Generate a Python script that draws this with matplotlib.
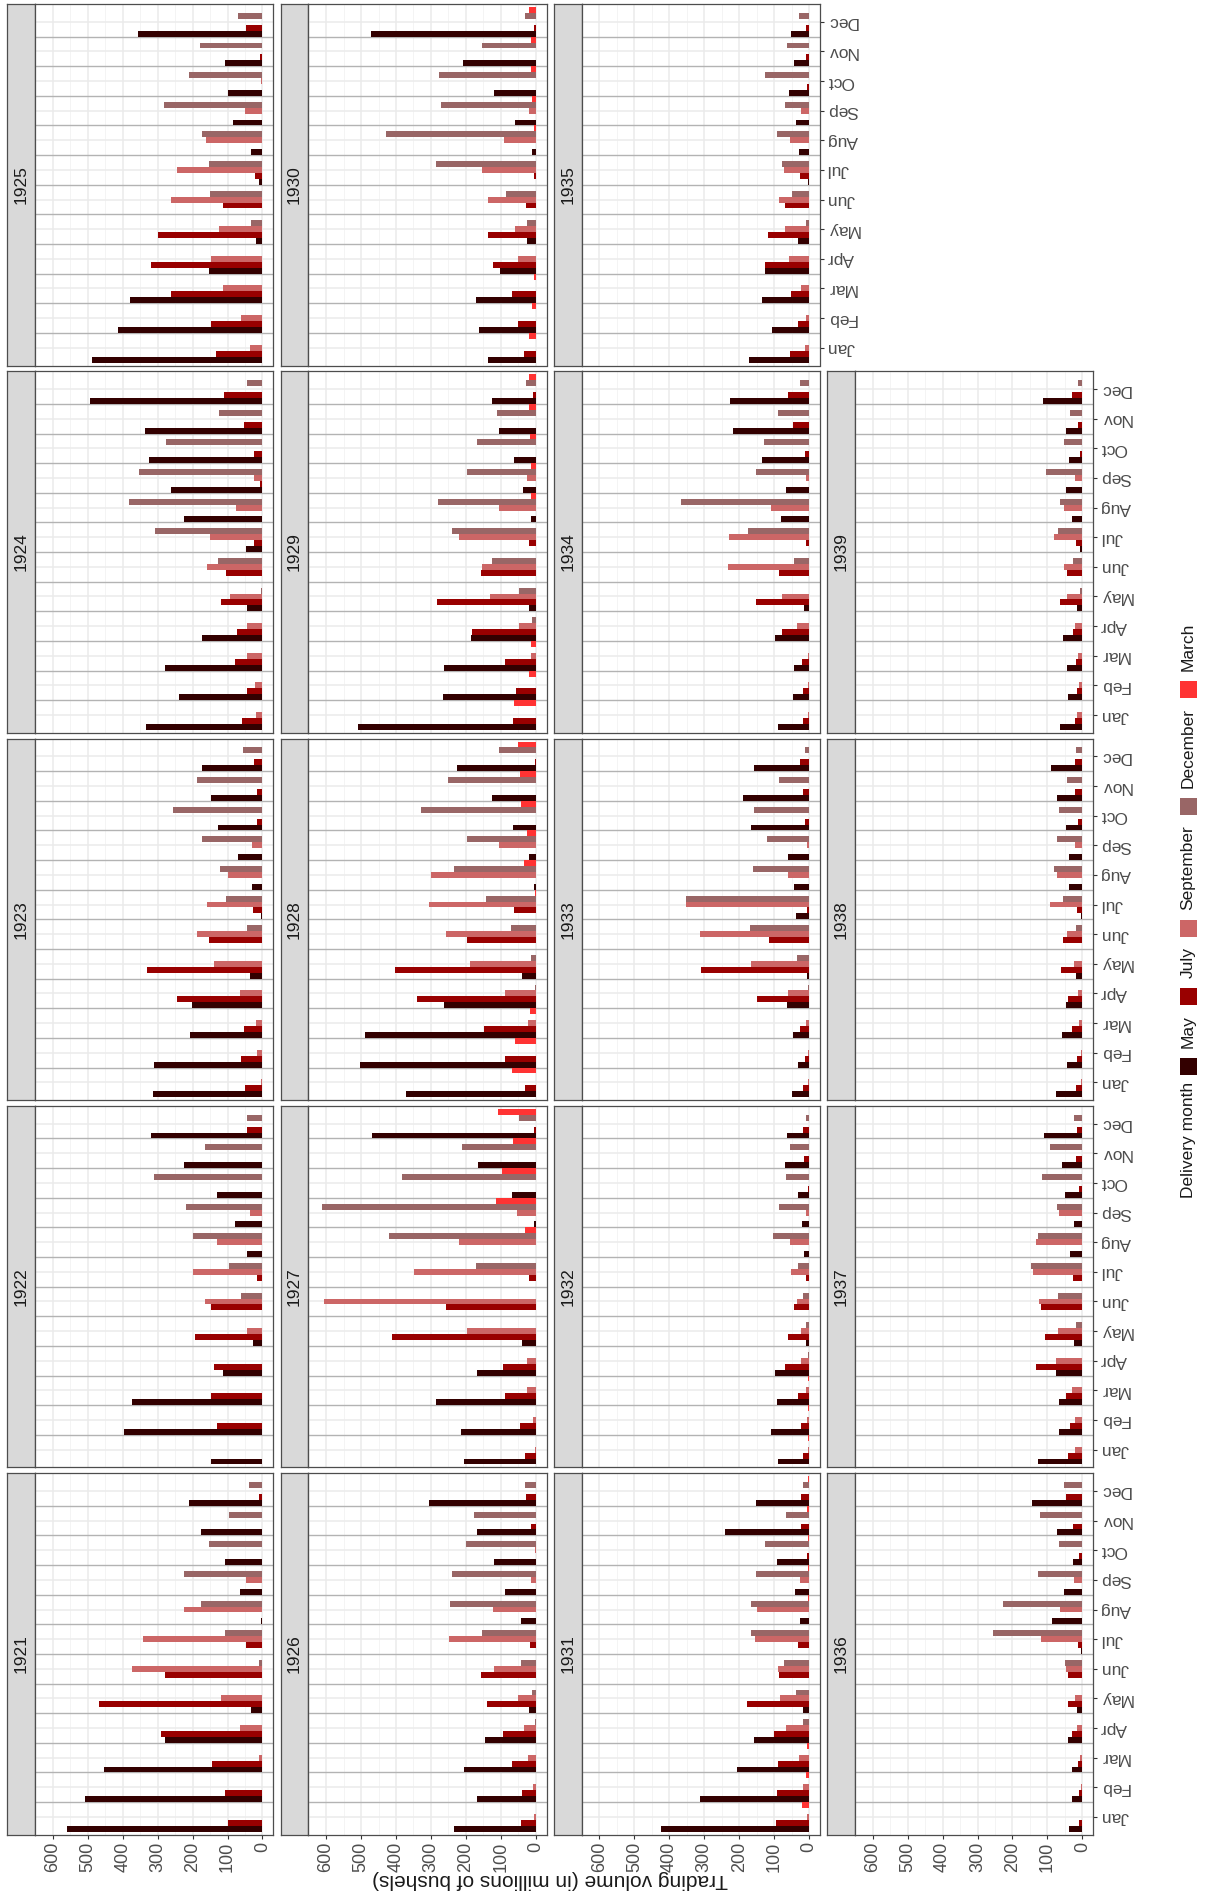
import matplotlib
matplotlib.use("Agg")
import matplotlib.pyplot as plt
from matplotlib.patches import Rectangle
from matplotlib.ticker import MultipleLocator
import numpy as np

W, H, DPI = 1205, 1897, 100
FONT = ["Liberation Sans Narrow", "Liberation Sans", "DejaVu Sans"]
plt.rcParams["font.family"] = FONT

months = ["Jan", "Feb", "Mar", "Apr", "May", "Jun", "Jul", "Aug", "Sep", "Oct", "Nov", "Dec"]
delivery_months = ["May", "July", "September", "December", "March"]
delivery_colors = ["#330000", "#990000", "#CC6666", "#996666", "#FF3333"]
years = list(range(1921, 1940))

# Trading volume (millions of bushels) per trading month Jan..Dec, by delivery month
may_volume = {
    1921: [560, 509, 453, 279, 33, 0, 0, 5, 63, 108, 177, 210],
    1922: [148, 397, 372, 114, 28, 0, 0, 45, 80, 131, 224, 320],
    1923: [312, 309, 207, 202, 35, 0, 5, 31, 69, 127, 147, 172],
    1924: [333, 239, 279, 174, 45, 0, 46, 225, 261, 326, 336, 493],
    1925: [488, 414, 379, 152, 19, 0, 10, 33, 84, 100, 108, 357],
    1926: [234, 168, 204, 144, 20, 0, 0, 42, 88, 119, 167, 306],
    1927: [205, 215, 285, 167, 40, 0, 0, 0, 5, 68, 164, 468],
    1928: [370, 502, 488, 263, 39, 0, 0, 4, 18, 65, 124, 225],
    1929: [510, 265, 263, 185, 19, 0, 0, 15, 36, 63, 106, 125],
    1930: [138, 162, 172, 103, 24, 0, 0, 10, 60, 120, 207, 472],
    1931: [423, 312, 205, 157, 16, 0, 0, 25, 41, 93, 241, 153],
    1932: [90, 110, 91, 97, 9, 0, 0, 14, 21, 32, 69, 64],
    1933: [50, 33, 45, 63, 6, 0, 37, 44, 61, 166, 189, 159],
    1934: [89, 46, 44, 97, 14, 0, 0, 80, 65, 134, 218, 226],
    1935: [173, 106, 135, 127, 31, 0, 3, 28, 37, 57, 43, 51],
    1936: [38, 29, 29, 40, 14, 0, 5, 87, 52, 28, 73, 144],
    1937: [128, 67, 66, 76, 23, 0, 2, 34, 23, 50, 57, 109],
    1938: [76, 44, 59, 46, 17, 0, 5, 38, 37, 46, 72, 89],
    1939: [63, 40, 45, 55, 16, 0, 6, 30, 47, 38, 47, 114],
}
july_volume = {
    1921: [100, 106, 145, 291, 467, 279, 47, 0, 0, 0, 0, 11],
    1922: [0, 130, 148, 138, 193, 148, 17, 0, 0, 0, 0, 45],
    1923: [49, 62, 52, 244, 330, 152, 27, 0, 0, 15, 17, 23],
    1924: [60, 43, 80, 74, 119, 105, 23, 0, 6, 25, 53, 110],
    1925: [134, 146, 261, 320, 298, 114, 20, 0, 0, 0, 8, 47],
    1926: [41, 40, 69, 93, 140, 158, 17, 0, 0, 0, 14, 29],
    1927: [31, 46, 88, 94, 412, 256, 20, 0, 0, 0, 0, 5],
    1928: [31, 87, 147, 340, 403, 197, 63, 0, 0, 0, 0, 2],
    1929: [64, 57, 88, 182, 282, 157, 19, 0, 0, 0, 0, 7],
    1930: [34, 52, 69, 121, 138, 28, 5, 0, 0, 0, 0, 5],
    1931: [95, 91, 89, 100, 178, 86, 31, 0, 0, 5, 23, 22],
    1932: [16, 24, 31, 69, 61, 44, 8, 0, 0, 3, 14, 18],
    1933: [17, 12, 25, 149, 309, 115, 5, 0, 0, 12, 16, 27],
    1934: [18, 16, 20, 78, 152, 86, 10, 0, 0, 12, 45, 60],
    1935: [55, 33, 52, 127, 118, 68, 25, 0, 0, 7, 8, 9],
    1936: [11, 9, 12, 31, 40, 41, 12, 0, 0, 10, 27, 48],
    1937: [40, 34, 47, 133, 108, 117, 27, 0, 0, 9, 17, 16],
    1938: [18, 16, 31, 40, 62, 54, 15, 0, 0, 12, 21, 20],
    1939: [20, 15, 19, 27, 63, 44, 18, 0, 0, 7, 12, 31],
}
september_volume = {
    1921: [0, 0, 9, 65, 118, 373, 342, 225, 48, 0, 0, 0],
    1922: [0, 0, 0, 0, 45, 165, 200, 130, 35, 0, 0, 0],
    1923: [4, 15, 19, 65, 138, 186, 158, 99, 29, 0, 0, 0],
    1924: [19, 21, 45, 45, 94, 159, 149, 77, 23, 0, 0, 0],
    1925: [37, 61, 113, 148, 123, 262, 246, 161, 49, 3, 0, 0],
    1926: [4, 9, 22, 33, 52, 120, 248, 122, 13, 2, 0, 0],
    1927: [3, 8, 26, 26, 197, 605, 349, 221, 55, 0, 0, 0],
    1928: [0, 0, 21, 87, 188, 256, 306, 300, 105, 0, 0, 0],
    1929: [0, 0, 15, 48, 131, 153, 220, 105, 24, 0, 0, 0],
    1930: [0, 0, 0, 52, 59, 138, 155, 90, 20, 0, 0, 0],
    1931: [6, 17, 30, 65, 84, 88, 156, 149, 25, 0, 0, 0],
    1932: [2, 6, 10, 24, 23, 34, 51, 54, 8, 0, 0, 0],
    1933: [2, 3, 10, 61, 165, 311, 353, 61, 6, 0, 0, 0],
    1934: [2, 2, 3, 34, 78, 233, 228, 109, 10, 0, 0, 0],
    1935: [12, 9, 23, 57, 70, 85, 73, 55, 23, 0, 0, 0],
    1936: [2, 3, 6, 15, 20, 47, 117, 64, 23, 0, 0, 2],
    1937: [20, 20, 31, 76, 69, 123, 140, 132, 68, 0, 0, 0],
    1938: [4, 4, 9, 12, 25, 43, 93, 74, 21, 0, 0, 2],
    1939: [15, 10, 12, 20, 43, 52, 80, 52, 21, 0, 0, 0],
}
december_volume = {
    1921: [0, 0, 0, 0, 0, 9, 107, 176, 224, 154, 95, 39],
    1922: [0, 0, 0, 0, 0, 62, 97, 200, 220, 310, 165, 45],
    1923: [0, 0, 0, 2, 2, 44, 103, 122, 174, 256, 187, 56],
    1924: [0, 0, 0, 0, 3, 127, 307, 383, 353, 276, 125, 44],
    1925: [0, 0, 0, 0, 34, 150, 153, 174, 281, 210, 179, 71],
    1926: [0, 0, 0, 2, 10, 43, 153, 245, 241, 199, 176, 30],
    1927: [0, 0, 0, 0, 0, 0, 171, 419, 613, 383, 211, 48],
    1928: [0, 0, 0, 2, 13, 71, 142, 233, 198, 329, 252, 106],
    1929: [0, 0, 0, 10, 49, 126, 240, 281, 196, 167, 111, 29],
    1930: [0, 0, 0, 0, 24, 86, 286, 430, 270, 276, 155, 30],
    1931: [0, 0, 0, 18, 38, 71, 167, 167, 153, 127, 65, 16],
    1932: [0, 0, 0, 2, 8, 18, 33, 103, 87, 65, 54, 10],
    1933: [0, 0, 0, 2, 35, 168, 352, 161, 121, 159, 85, 11],
    1934: [0, 0, 0, 0, 0, 43, 174, 366, 151, 130, 90, 25],
    1935: [0, 0, 0, 0, 8, 49, 78, 91, 68, 125, 63, 30],
    1936: [0, 0, 0, 0, 1, 50, 256, 228, 128, 68, 121, 52],
    1937: [0, 0, 0, 0, 17, 69, 146, 127, 72, 115, 92, 25],
    1938: [0, 0, 0, 0, 2, 18, 55, 82, 72, 66, 43, 18],
    1939: [0, 0, 0, 0, 6, 28, 69, 63, 105, 52, 34, 12],
}
march_volume = {
    1921: [0] * 12, 1922: [0] * 12, 1923: [0] * 12, 1924: [0] * 12, 1925: [0] * 12,
    1926: [0] * 12,
    1927: [0, 0, 0, 0, 0, 0, 0, 30, 114, 97, 65, 109],
    1928: [69, 59, 17, 0, 0, 0, 2, 33, 25, 42, 44, 50],
    1929: [63, 18, 13, 0, 0, 0, 0, 15, 15, 17, 19, 18],
    1930: [20, 10, 5, 0, 0, 0, 0, 5, 10, 15, 15, 20],
    1931: [19, 9, 5, 0, 0, 0, 0, 3, 3, 4, 5, 4],
    1932: [3, 3, 3, 0, 0, 0, 0, 0, 0, 0, 0, 0],
    1933: [0] * 12, 1934: [0] * 12, 1935: [0] * 12, 1936: [0] * 12, 1937: [0] * 12,
    1938: [0] * 12, 1939: [0] * 12,
}
series = [may_volume, july_volume, september_volume, december_volume, march_volume]

y_label = "Trading volume (in millions of bushels)"
legend_title = "Delivery month"

# ---------------- layout (pixel geometry of the rotated facet grid) -------------
fig = plt.figure(figsize=(W / DPI, H / DPI), dpi=DPI)
fig.patch.set_facecolor("white")

def rect(x, y, w, h):
    return [x / W, 1 - (y + h) / H, w / W, h / H]

col_x0, col_step = 7.3, 273.3
row_y0, row_step = 4.0, 367.3
strip_w, panel_w, panel_h = 27.7, 238.3, 361.5

BORDER = "#4D4D4D"
TXT = "#4D4D4D"
offsets = [-0.4, -0.2, 0.0, 0.2, 0.4]
mpos = np.arange(1, 13)

for k, yr in enumerate(years):
    orow, ocol = divmod(k, 5)
    c = orow
    r = 4 - ocol
    x0 = col_x0 + c * col_step
    y0 = row_y0 + r * row_step

    # strip
    sax = fig.add_axes(rect(x0, y0, strip_w, panel_h))
    sax.set_facecolor("#D9D9D9")
    sax.set_xticks([]); sax.set_yticks([])
    for sp in sax.spines.values():
        sp.set_color(BORDER); sp.set_linewidth(0.9)
    sax.text(0.5, 0.5, str(yr), rotation=90, ha="center", va="center",
             transform=sax.transAxes, fontsize=12.5, color="#1A1A1A")

    # panel
    ax = fig.add_axes(rect(x0 + strip_w, y0, panel_w, panel_h))
    ax.set_xlim(651, -31)
    ax.set_ylim(0.4, 12.6)
    ax.xaxis.set_major_locator(MultipleLocator(100))
    ax.xaxis.set_minor_locator(MultipleLocator(50))
    ax.set_yticks(mpos)
    ax.set_axisbelow(True)
    ax.grid(which="major", axis="both", color="#EBEBEB", lw=1.1, zorder=0.5)
    ax.grid(which="minor", axis="x", color="#F2F2F2", lw=0.6, zorder=0.5)
    for b in np.arange(1.5, 12.5, 1.0):
        ax.axhline(b, color="#B3B3B3", lw=1.0, zorder=0.8)
    for sp in ax.spines.values():
        sp.set_color(BORDER); sp.set_linewidth(0.9)

    for s, vol in enumerate(series):
        ax.barh(mpos + offsets[s], vol[yr], height=0.2, left=0,
                color=delivery_colors[s], linewidth=0, zorder=2)

    ax.tick_params(which="minor", length=0)
    # value axis (bottom of the image)
    if ocol == 0:
        ax.tick_params(axis="x", which="major", bottom=True, top=False, labelbottom=True,
                       length=3, width=0.8, color="#333333", labelsize=13, labelcolor=TXT,
                       labelrotation=90, pad=2)
        for lab in ax.get_xticklabels():
            lab.set_va("top"); lab.set_ha("center")
    else:
        ax.tick_params(axis="x", which="major", bottom=False, top=False, labelbottom=False)
    # month axis (right of the image)
    if k >= 14:
        ax.yaxis.tick_right()
        ax.set_yticklabels(months)
        ax.tick_params(axis="y", which="major", right=True, left=False, labelright=True,
                       labelleft=False, length=3, width=0.8, color="#333333",
                       labelsize=12.5, labelcolor=TXT, pad=2)
        for lab in ax.get_yticklabels():
            lab.set_rotation(180); lab.set_va("center"); lab.set_ha("left")
    else:
        ax.tick_params(axis="y", which="major", left=False, right=False,
                       labelleft=False, labelright=False)

# axis title (rotated with the whole chart)
fig.text(550 / W, 1 - 1880 / H, y_label, rotation=180, ha="center", va="center",
         fontsize=15, color="#1A1A1A")

# legend (vertical, reading upwards from the bottom)
fig.canvas.draw()
renderer = fig.canvas.get_renderer()
lx = 1188
key = 17
cur = 1198  # pixel row (from top) where the next item starts
t = fig.text(lx / W, 1 - cur / H, legend_title, rotation=90, ha="center", va="bottom",
             fontsize=12.5, color="#1A1A1A")
cur -= t.get_window_extent(renderer).height + 7
for name, colr in zip(delivery_months, delivery_colors):
    fig.patches.append(Rectangle(((lx - key / 2) / W, 1 - cur / H), key / W, key / H,
                                 transform=fig.transFigure, facecolor=colr, edgecolor="none"))
    cur -= key + 10
    t = fig.text(lx / W, 1 - cur / H, name, rotation=90, ha="center", va="bottom",
                 fontsize=12.5, color="#1A1A1A")
    cur -= t.get_window_extent(renderer).height + 10

fig.savefig("out.png", dpi=DPI)
